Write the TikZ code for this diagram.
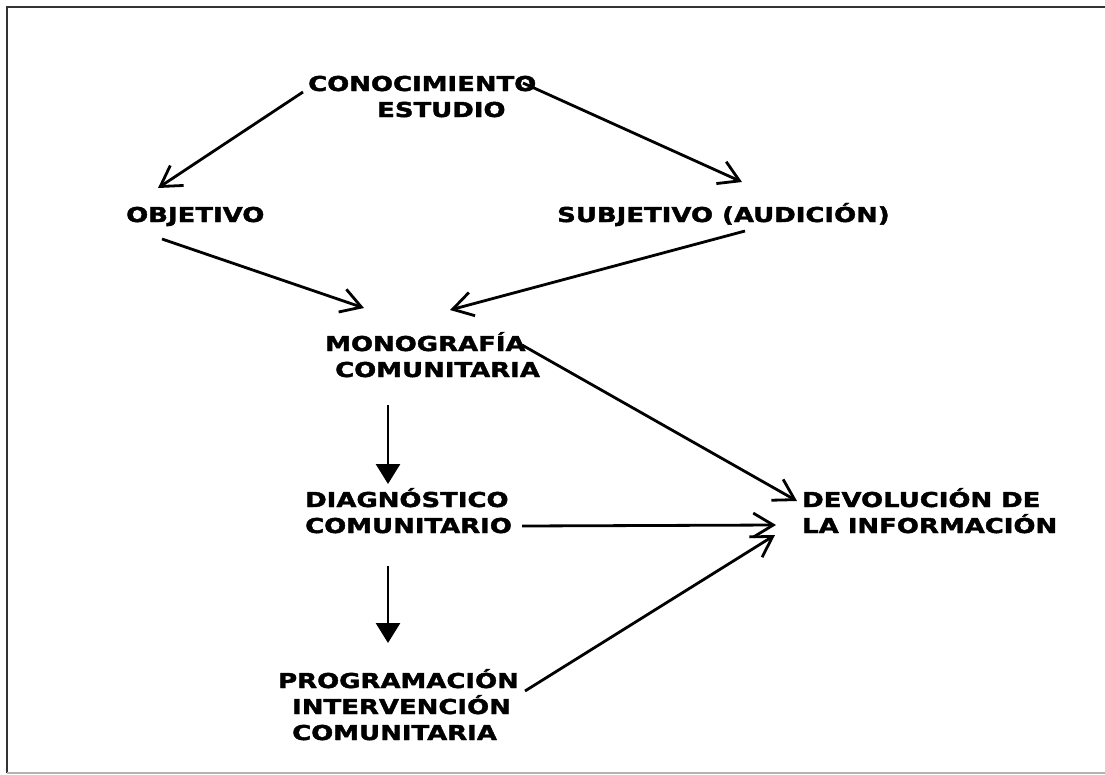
\documentclass[tikz,border=0pt]{standalone}
\usepackage{fontspec}
\newfontfamily\lblfont{DejaVu Sans}[FakeStretch=1.265, BoldFeatures={FakeBold=2}]
\usetikzlibrary{arrows.meta}
\tikzset{
  lbl/.style={inner sep=0pt, anchor=base west, align=left, font=\fontsize{20.5}{26}\selectfont\lblfont\bfseries},
  open/.style={line width=2.8pt, -{Straight Barb[length=20pt,width=24pt,line width=2.8pt]}},
  solid/.style={line width=2.8pt, -{Triangle[length=20pt,width=24pt]}},
}
\begin{document}
\begin{tikzpicture}[x=1pt,y=-1pt]
\useasboundingbox (0,0) rectangle (1105,774);
% frame
\draw[line width=2pt, color=black!80] (7,773) -- (7,6.5) -- (1105,6.5);
\draw[line width=2pt, color=black!30] (7,773) -- (1105,773);
% nodes (anchored at the baseline of their last line)
\node[lbl] (con) at (308,117) {CONOCIMIENTO\\\hspace*{69pt}ESTUDIO};
\node[lbl] (obj) at (126,222) {OBJETIVO};
\node[lbl] (sub) at (557,222) {SUBJETIVO (AUDICIÓN)};
\node[lbl] (mono) at (325,377) {MONOGRAFÍA\\\hspace*{10pt}COMUNITARIA};
\node[lbl] (diag) at (305,533) {DIAGNÓSTICO\\COMUNITARIO};
\node[lbl] (dev) at (802,533) {DEVOLUCIÓN DE\\LA INFORMACIÓN};
\node[lbl] (prog) at (278,740) {PROGRAMACIÓN\\\hspace*{14pt}INTERVENCIÓN\\\hspace*{14pt}COMUNITARIA};
% connectors
\draw[open] ([shift={(-5,-25)}]con.base west) -- ([shift={(32,-34)}]obj.base west);
\draw[open] ([shift={(215,-34)}]con.base west) -- ([shift={(185,-40)}]sub.base west);
\draw[open] ([shift={(36,17)}]obj.base west) -- ([shift={(39,-69)}]mono.base west);
\draw[open] ([shift={(188,9)}]sub.base west) -- ([shift={(125,-67)}]mono.base west);
\draw[open] ([shift={(197,-32)}]mono.base west) -- ([shift={(-5,-32)}]dev.base west);
\draw[solid] ([shift={(63,28)}]mono.base west) -- ([shift={(83,-49)}]diag.base west);
\draw[open] ([shift={(217,-7)}]diag.base west) -- ([shift={(-26,-8)}]dev.base west);
\draw[solid] ([shift={(83,33)}]diag.base west) -- ([shift={(110,-97)}]prog.base west);
\draw[open] ([shift={(247,-49)}]prog.base west) -- ([shift={(-27,2)}]dev.base west);
\end{tikzpicture}
\end{document}
